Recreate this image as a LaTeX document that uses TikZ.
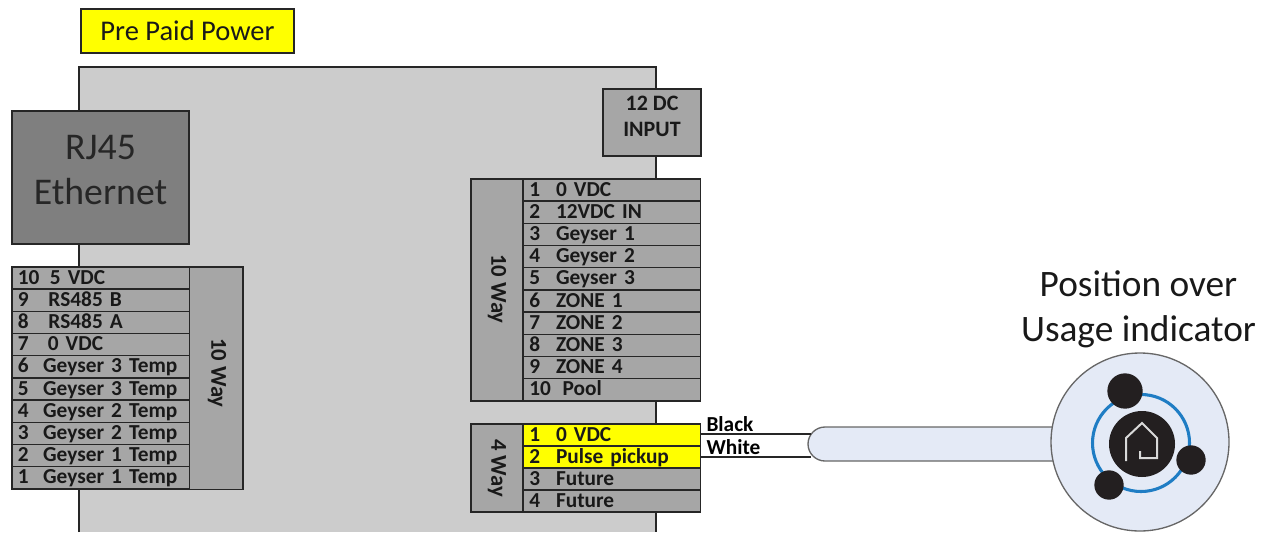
\documentclass[tikz,border=0pt]{standalone}
\usepackage{fontspec}
\setmainfont{Carlito}
\usetikzlibrary{shapes.misc}

\definecolor{boardgrey}{HTML}{CCCCCC}
\definecolor{pingrey}{HTML}{A6A6A6}
\definecolor{jackgrey}{HTML}{7F7F7F}
\definecolor{inkdark}{HTML}{262626}
\definecolor{padblue}{HTML}{E4EAF6}
\definecolor{ringblue}{HTML}{1F7DC4}
\definecolor{discdark}{HTML}{231F20}
\definecolor{prepaid}{HTML}{FFFF00}

\newcommand{\pinlabel}[3]{\makebox[#1pt][l]{#2}#3}

\tikzset{every picture/.style={line width=0.75pt}}
\tikzset{
  pinrow/.style={draw=inkdark,fill=pingrey,line width=1pt,minimum width=133pt,minimum height=16.7pt,
    inner xsep=4.5pt,inner ysep=0pt,text width=124pt,align=left,text height=11pt,text depth=1.8pt,
    text=black!90,font=\fontsize{16}{18}\selectfont\bfseries},
  pinside/.style={draw=inkdark,fill=pingrey,line width=1pt,inner sep=0pt,text=black!90,
    font=\fontsize{16}{18}\selectfont\bfseries},
  sidetext/.style={rotate=-90,text=black!90,font=\fontsize{17}{18}\selectfont\bfseries},
  wiretext/.style={anchor=west,inner sep=0pt,text=black,font=\fontsize{16}{18}\selectfont\bfseries},
  satdisc/.style={circle,fill=discdark,inner sep=0pt},
  headtext/.style={align=center,text=black!90,font=\fontsize{28}{34}\selectfont}
}

\begin{document}
\begin{tikzpicture}[x=0.75pt,y=0.75pt,yscale=-1,xscale=1]
\useasboundingbox (0,0) rectangle (1269,532);

% Board
\fill [boardgrey] (79,67) rectangle (656,532);
\draw [inkdark,line width=1pt] (79,532) -- (79,67) -- (656,67) -- (656,532);

% Text Node
\node [draw=inkdark,fill=prepaid,line width=1pt,minimum width=159.75pt,minimum height=33pt,inner sep=0pt,
  text=black!90,font=\fontsize{21.4}{24}\selectfont] (prepaidbox) at (187.5,31) {Pre Paid Power};
\node [draw=inkdark,fill=jackgrey,line width=1pt,minimum width=132.75pt,minimum height=99.75pt,inner sep=0pt] (rj45) at (100.5,177.5) {};
\node [align=center,text=black!85,font=\fontsize{28.3}{34}\selectfont] (rj45text) at (100.5,170) {RJ45\\Ethernet};
\node [draw=inkdark,fill=pingrey,line width=1pt,minimum width=73.5pt,minimum height=50.25pt,inner sep=0pt] (dcinput) at (652,122.5) {};
\node [align=center,text=black!90,font=\fontsize{16.5}{19.5}\selectfont\bfseries] (dctext) at (652,116) {12 DC\\INPUT};

% Left 10 Way
\node [pinside,minimum width=40.5pt,minimum height=166.75pt] (leftside) at (216,378) {};
\node [sidetext] (leftway) at (217,373) {10 Way};
\node [pinrow] (l10) at (100.5,278) {\pinlabel{24}{10}5 VDC};
\node [pinrow] (l9) at (100.5,300.2) {\pinlabel{23}{9}RS485 B};
\node [pinrow] (l8) at (100.5,322.4) {\pinlabel{23}{8}RS485 A};
\node [pinrow] (l7) at (100.5,344.6) {\pinlabel{22.5}{7}0 VDC};
\node [pinrow] (l6) at (100.5,366.8) {\pinlabel{19}{6}Geyser 3 Temp};
\node [pinrow] (l5) at (100.5,389) {\pinlabel{19}{5}Geyser 3 Temp};
\node [pinrow] (l4) at (100.5,411.2) {\pinlabel{19}{4}Geyser 2 Temp};
\node [pinrow] (l3) at (100.5,433.4) {\pinlabel{19}{3}Geyser 2 Temp};
\node [pinrow] (l2) at (100.5,455.6) {\pinlabel{19}{2}Geyser 1 Temp};
\node [pinrow] (l1) at (100.5,477.8) {\pinlabel{19}{1}Geyser 1 Temp};

% Right 10 Way
\node [pinside,minimum width=39pt,minimum height=166.5pt] (rightside) at (497,290) {};
\node [sidetext] (rightway) at (497,289) {10 Way};
\node [pinrow] (r1) at (612,190) {\pinlabel{20}{1}0 VDC};
\node [pinrow] (r2) at (612,212.2) {\pinlabel{20}{2}12VDC IN};
\node [pinrow] (r3) at (612,234.4) {\pinlabel{20}{3}Geyser 1};
\node [pinrow] (r4) at (612,256.6) {\pinlabel{20}{4}Geyser 2};
\node [pinrow] (r5) at (612,278.8) {\pinlabel{20}{5}Geyser 3};
\node [pinrow] (r6) at (612,301) {\pinlabel{20}{6}ZONE 1};
\node [pinrow] (r7) at (612,323.2) {\pinlabel{20}{7}ZONE 2};
\node [pinrow] (r8) at (612,345.4) {\pinlabel{20}{8}ZONE 3};
\node [pinrow] (r9) at (612,367.6) {\pinlabel{20}{9}ZONE 4};
\node [pinrow] (r10) at (612,389.8) {\pinlabel{25}{10}Pool};

% 4 Way
\node [pinside,minimum width=39pt,minimum height=66pt] (fourside) at (497,468) {};
\node [sidetext] (fourway) at (497,468) {4 Way};
\node [pinrow,fill=prepaid] (f1) at (612,435) {\pinlabel{20}{1}0 VDC};
\node [pinrow,fill=prepaid] (f2) at (612,457) {\pinlabel{20}{2}Pulse pickup};
\node [pinrow] (f3) at (612,479) {\pinlabel{20}{3}Future};
\node [pinrow] (f4) at (612,501) {\pinlabel{20}{4}Future};

% Usage indicator
\node [rounded rectangle,rounded rectangle east arc=none,draw=inkdark!70,fill=padblue,line width=1pt,
  minimum width=189pt,minimum height=25.5pt,inner sep=0pt] (cable) at (934,444) {};
\node [circle,draw=inkdark!70,fill=padblue,line width=1pt,minimum size=133.5pt,inner sep=0pt] (pad) at (1140,442) {};
\draw [ringblue,line width=2.3pt] (1141,443) circle [radius=48.5];
\node [satdisc,minimum size=49.5pt] (hub) at (1142,444) {};
\node [satdisc,minimum size=26.5pt] (sattop) at (1125,391) {};
\node [satdisc,minimum size=22pt] (satright) at (1191,460) {};
\node [satdisc,minimum size=22pt] (satleft) at (1109,485) {};
\draw [white!85!black,line width=1.5pt] (1126,461) -- (1126,438) -- (1142,423) -- (1157,438) -- (1157,458) -- (1140,458) -- (1140,451);
\node [headtext] (heading) at (1138.5,309.5) {Position over\\Usage indicator};

% Connection
\draw [inkdark,line width=1pt] (f1.east |- 0,434) -- ([xshift=3pt]cable.west |- 0,434);
\draw [inkdark,line width=1pt] (f2.east |- 0,457) -- ([xshift=3pt]cable.west |- 0,457);
\node [wiretext] (blacklabel) at (706,424) {Black};
\node [wiretext] (whitelabel) at (706,447) {White};

\end{tikzpicture}
\end{document}
